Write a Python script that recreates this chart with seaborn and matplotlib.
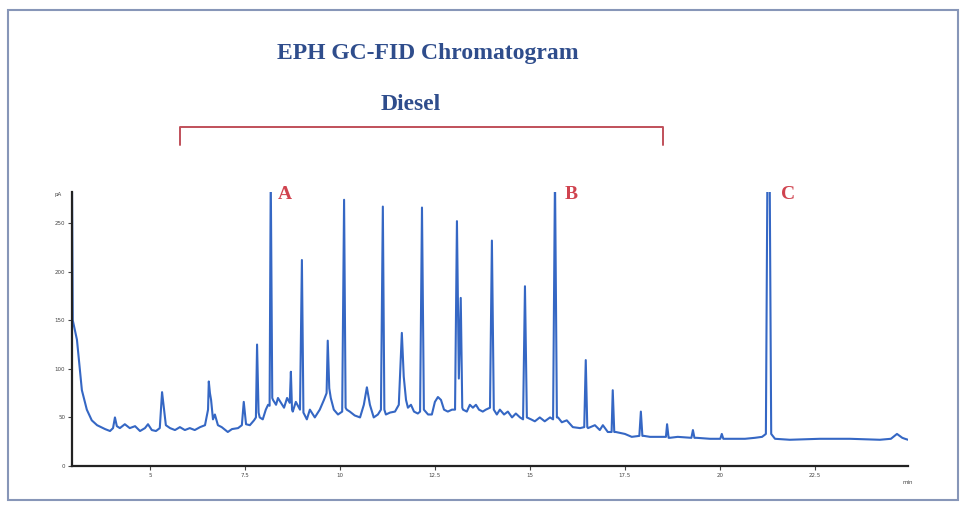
import matplotlib
matplotlib.use("Agg")
import matplotlib.pyplot as plt
import matplotlib.transforms as mtransforms
from matplotlib.patches import Rectangle
from matplotlib.lines import Line2D
import seaborn as sns
import pandas as pd

# ---------------- data ----------------
retention_min = [
    2.95, 2.97, 3.08, 3.21, 3.34, 3.47, 3.61, 3.82, 3.95, 4.03, 4.08, 4.13, 4.21, 4.34, 4.47,
    4.61, 4.74, 4.87, 4.95, 5.05, 5.16, 5.26, 5.32, 5.40, 5.42, 5.53, 5.66, 5.79, 5.92, 6.05,
    6.18, 6.32, 6.45, 6.53, 6.55, 6.58, 6.61, 6.66, 6.71, 6.79, 6.89, 7.05, 7.16, 7.32, 7.42,
    7.47, 7.53, 7.63, 7.74, 7.79, 7.82, 7.86, 7.89, 7.97, 8.05, 8.11, 8.15, 8.18, 8.22, 8.24,
    8.32, 8.37, 8.45, 8.53, 8.61, 8.68, 8.71, 8.74, 8.76, 8.84, 8.95, 9.00, 9.04, 9.13, 9.21,
    9.34, 9.47, 9.58, 9.65, 9.68, 9.72, 9.76, 9.84, 9.95, 10.06, 10.11, 10.15, 10.18, 10.26, 10.39,
    10.53, 10.63, 10.71, 10.79, 10.89, 11.00, 11.08, 11.13, 11.17, 11.21, 11.32, 11.45, 11.55, 11.63, 11.68,
    11.74, 11.79, 11.87, 11.95, 12.05, 12.11, 12.16, 12.21, 12.32, 12.42, 12.50, 12.58, 12.66, 12.74, 12.84,
    12.95, 13.03, 13.08, 13.13, 13.18, 13.22, 13.24, 13.34, 13.42, 13.50, 13.58, 13.66, 13.76, 13.84, 13.95,
    14.00, 14.05, 14.13, 14.21, 14.32, 14.42, 14.53, 14.63, 14.74, 14.82, 14.87, 14.92, 15.03, 15.13, 15.26,
    15.39, 15.53, 15.61, 15.66, 15.71, 15.74, 15.84, 15.97, 16.13, 16.32, 16.43, 16.47, 16.51, 16.53, 16.71,
    16.84, 16.92, 17.05, 17.15, 17.18, 17.22, 17.26, 17.50, 17.68, 17.88, 17.92, 17.96, 18.00, 18.16, 18.42,
    18.58, 18.61, 18.65, 18.68, 18.89, 19.25, 19.29, 19.33, 19.39, 19.74, 20.01, 20.05, 20.09, 20.13, 20.39,
    20.66, 20.92, 21.11, 21.21, 21.25, 21.31, 21.35, 21.45, 21.84, 22.63, 23.42, 24.21, 24.50, 24.66, 24.80,
    24.87, 24.95,
]
signal_pa = [
    290, 150, 130, 78, 58, 47, 42, 38, 36, 39, 50, 41, 39, 43, 39,
    41, 36, 39, 43, 37, 36, 39, 76, 48, 42, 39, 37, 40, 37, 39,
    37, 40, 42, 58, 87, 75, 68, 48, 53, 42, 40, 35, 38, 39, 42,
    66, 43, 42, 47, 50, 125, 55, 50, 48, 58, 63, 62, 300, 70, 68,
    63, 70, 65, 60, 70, 65, 97, 58, 56, 66, 58, 212, 55, 48, 58,
    50, 58, 68, 75, 129, 80, 70, 58, 53, 56, 274, 60, 58, 56, 52,
    50, 63, 81, 63, 50, 53, 58, 267, 58, 53, 55, 56, 63, 137, 92,
    68, 60, 63, 56, 54, 56, 266, 58, 53, 53, 66, 71, 68, 58, 56,
    58, 58, 252, 90, 173, 60, 58, 56, 63, 60, 63, 58, 56, 58, 60,
    232, 58, 53, 58, 53, 56, 50, 54, 50, 48, 185, 50, 48, 46, 50,
    46, 50, 48, 300, 50, 50, 45, 47, 40, 39, 40, 109, 40, 39, 42,
    37, 42, 35, 35, 78, 35, 35, 33, 30, 31, 56, 31, 31, 30, 30,
    30, 43, 29, 29, 30, 29, 37, 29, 29, 28, 28, 33, 28, 28, 28,
    28, 29, 30, 33, 300, 300, 33, 28, 27, 28, 28, 27, 28, 33, 29,
    28, 27,
]

y_ticks = [0, 50, 100, 150, 200, 250]
x_ticks = [5, 7.5, 10, 12.5, 15, 17.5, 20, 22.5]
x_tick_labels = ["5", "7.5", "10", "12.5", "15", "17.5", "20", "22.5"]
peak_labels = ["A", "B", "C"]
peak_label_x = [8.37, 15.92, 21.6]
bracket_span = [180, 663]  # pixel columns of the "Diesel" range bracket

title_text = "EPH GC-FID Chromatogram"
subtitle_text = "Diesel"

# ---------------- figure ----------------
sns.set_style("ticks")
plt.rcParams["font.family"] = ["DejaVu Sans"]

W, H = 960, 509
fig = plt.figure(figsize=(W / 100, H / 100), dpi=100)
fig.patch.set_facecolor("white")

ax = fig.add_axes([72 / W, 1 - 466 / H, (908 - 72) / W, (466 - 192) / H])

df = pd.DataFrame({"time": retention_min, "pA": signal_pa})
sns.lineplot(data=df, x="time", y="pA", ax=ax, color="#3567c4", linewidth=1.5,
             estimator=None, sort=False)

ax.set_xlim(2.95, 24.95)
ax.set_ylim(0, 282)
ax.set_xlabel("")
ax.set_ylabel("")
ax.set_xticks(x_ticks)
ax.set_xticklabels(x_tick_labels)
ax.set_yticks(y_ticks)
ax.tick_params(axis="both", labelsize=4, colors="#444444", length=3, width=0.8, pad=2)
for side in ["top", "right"]:
    ax.spines[side].set_visible(False)
for side in ["left", "bottom"]:
    ax.spines[side].set_color("#222222")
    ax.spines[side].set_linewidth(1.6)
ax.set_facecolor("white")

ax.text(-0.012, 0.99, "pA", transform=ax.transAxes, ha="right", va="center",
        fontsize=4, color="#444444")
ax.text(1.0, -0.05, "min", transform=ax.transAxes, ha="center", va="top",
        fontsize=4, color="#444444")

# peak labels
trans = mtransforms.blended_transform_factory(ax.transData, ax.transAxes)
for lab, xpos in zip(peak_labels, peak_label_x):
    ax.text(xpos, 0.99, lab, transform=trans, ha="left", va="center",
            fontsize=14, fontweight="bold", color="#d0434f",
            family=["Liberation Serif"], clip_on=False)

# titles
fig.text(428 / W, 1 - 53 / H, title_text, ha="center", va="center",
         fontsize=17, fontweight="bold", color="#2f4d8c", family=["Liberation Serif"])
fig.text(411 / W, 1 - 104 / H, subtitle_text, ha="center", va="center",
         fontsize=17, fontweight="bold", color="#2f4d8c", family=["Liberation Serif"])

# bracket
bx0, bx1 = bracket_span
by, byb = 1 - 127 / H, 1 - 145 / H
fig.add_artist(Line2D([bx0 / W, bx0 / W, bx1 / W, bx1 / W], [byb, by, by, byb],
                      transform=fig.transFigure, color="#c0505a", linewidth=1.4))

# outer frame
fig.add_artist(Rectangle((8 / W, 1 - 500 / H), (958 - 8) / W, (500 - 10) / H,
                         transform=fig.transFigure, fill=False,
                         edgecolor="#8796b8", linewidth=1.5))

fig.savefig("out.png", dpi=100, facecolor="white")
